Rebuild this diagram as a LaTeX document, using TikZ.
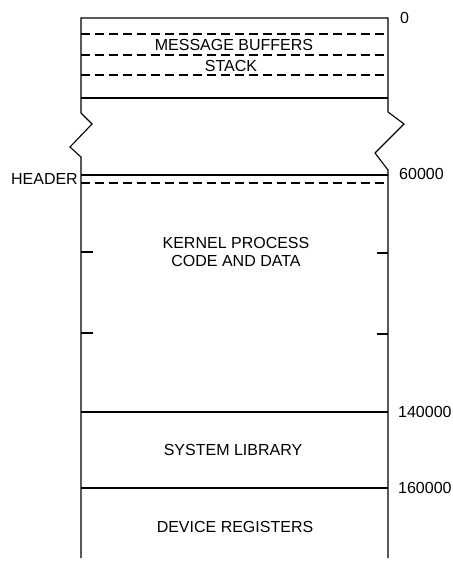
\documentclass[tikz,border=0pt]{standalone}
\usepackage{fontspec}
\setmainfont{Liberation Sans}
\begin{document}
\begin{tikzpicture}[x=1pt,y=-1pt,
    mem/.style={line width=1.1pt},
    part/.style={line width=1.1pt,dash pattern=on 9pt off 5pt},
    lbl/.style={font=\fontsize{16}{18.5}\selectfont,inner sep=0pt},
    addr/.style={lbl,anchor=west}]
    \useasboundingbox (0,0) rectangle (452,561);
    % Bordas da memoria, com o corte
    \draw[mem] (81,558) -- (81,157) -- (70,147) -- (92,124) -- (81,113) -- (81,18)
        -- (388,18) -- (388,112) -- (404,124) -- (375,153) -- (388,170) -- (388,558);
    % Area de buffers e pilha
    \draw[part] (81,34) -- (388,34);
    \draw[part] (81,55) -- (388,55);
    \draw[part] (81,75) -- (388,75);
    \draw[mem] (81,98) -- (388,98);
    \node[lbl] (buffers) at (234,45) {MESSAGE BUFFERS};
    \node[lbl] (stack) at (231,66) {STACK};
    % Cabecalho do processo
    \draw[mem] (81,175) -- (388,175);
    \draw[part] (81,183) -- (388,183);
    \node[lbl,anchor=east] (header) at (78,179) {HEADER};
    % Marcas laterais
    \draw[mem] (81,252) -- (93,252);
    \draw[mem] (81,333) -- (93,333);
    \draw[mem] (377,253) -- (388,253);
    \draw[mem] (377,334) -- (388,334);
    \node[lbl,align=center] (kernel) at (236,252) {KERNEL PROCESS\\CODE AND DATA};
    % Biblioteca e registradores
    \draw[mem] (81,412) -- (388,412);
    \draw[mem] (81,488) -- (388,488);
    \node[lbl] (syslib) at (233,450) {SYSTEM LIBRARY};
    \node[lbl] (devregs) at (235,527) {DEVICE REGISTERS};
    % Enderecos
    \node[addr] (a0) at (400,18) {0};
    \node[addr] (a60000) at (399,174) {60000};
    \node[addr] (a140000) at (398,412) {140000};
    \node[addr] (a160000) at (398,488) {160000};
\end{tikzpicture}
\end{document}
